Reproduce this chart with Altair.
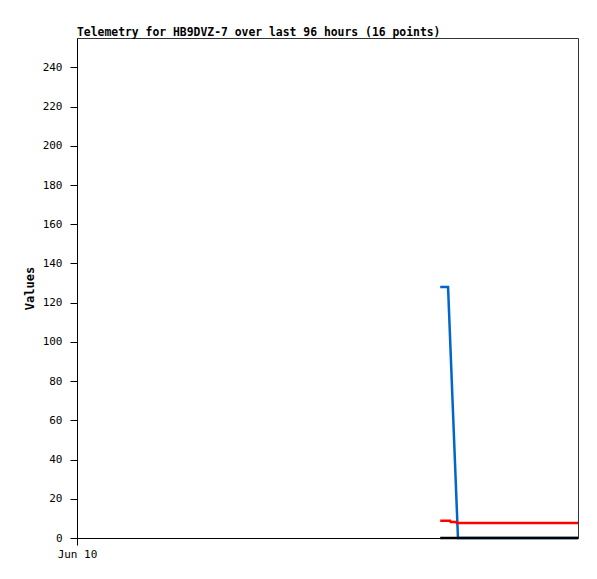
import altair as alt
import pandas as pd

# hours since Jun 10 00:00 (axis covers 96 hours)
blue_t = [69.6, 71.1, 73.0, 96.0]
blue_v = [128, 128, 0, 0]
red_t = [69.6, 71.5, 71.6, 72.75, 72.8, 96.0]
red_v = [8.8, 8.8, 8.2, 8.2, 7.7, 7.7]
black_t = [69.6, 96.0]
black_v = [0, 0]

rows = []
for t, v in zip(blue_t, blue_v):
    rows.append({"t": t, "v": v, "s": "blue"})
for t, v in zip(red_t, red_v):
    rows.append({"t": t, "v": v, "s": "red"})
for t, v in zip(black_t, black_v):
    rows.append({"t": t, "v": v, "s": "black"})
df = pd.DataFrame(rows)

FONT = "DejaVu Sans Mono"

x = alt.X("t:Q", scale=alt.Scale(domain=[0, 96], nice=False, zero=False),
          axis=alt.Axis(values=[0], labelExpr="'Jun 10'", title=None, grid=False,
                        tickSize=7, labelFont=FONT, labelFontSize=11, labelColor="black",
                        labelAlign="center",
                        domainColor="black", tickColor="black", labelPadding=3))
y = alt.Y("v:Q", scale=alt.Scale(domain=[0, 255], nice=False),
          axis=alt.Axis(values=list(range(0, 241, 20)), title="Values", grid=False,
                        tickSize=7, labelFont=FONT, labelFontSize=11, labelColor="black",
                        titleFont=FONT, titleFontSize=12, titleFontWeight="bold",
                        titleColor="black", titlePadding=6,
                        domainColor="black", tickColor="black", labelPadding=8))

base = alt.Chart(df)
blue = base.transform_filter(alt.datum.s == "blue").mark_line(color="#0066cc", strokeWidth=2.5).encode(x=x, y=y)
red = base.transform_filter(alt.datum.s == "red").mark_line(color="#ff0000", strokeWidth=2.5).encode(x=x, y=y)
black = base.transform_filter(alt.datum.s == "black").mark_line(color="#000000", strokeWidth=2.5).encode(x=x, y=y)

chart = alt.layer(blue, red, black).properties(
    width=501, height=500,
    title=alt.Title("Telemetry for HB9DVZ-7 over last 96 hours (16 points)",
                    anchor="start", frame="group", font=FONT, fontSize=11.4,
                    fontWeight="bold", color="black", offset=0),
    autosize=alt.AutoSizeParams(type="none"),
    padding={"left": 69, "top": 30, "right": 10, "bottom": 30},
).configure_view(stroke="#333333", strokeWidth=1)

chart.save("out.html", embed_options={"renderer": "svg", "actions": False})
